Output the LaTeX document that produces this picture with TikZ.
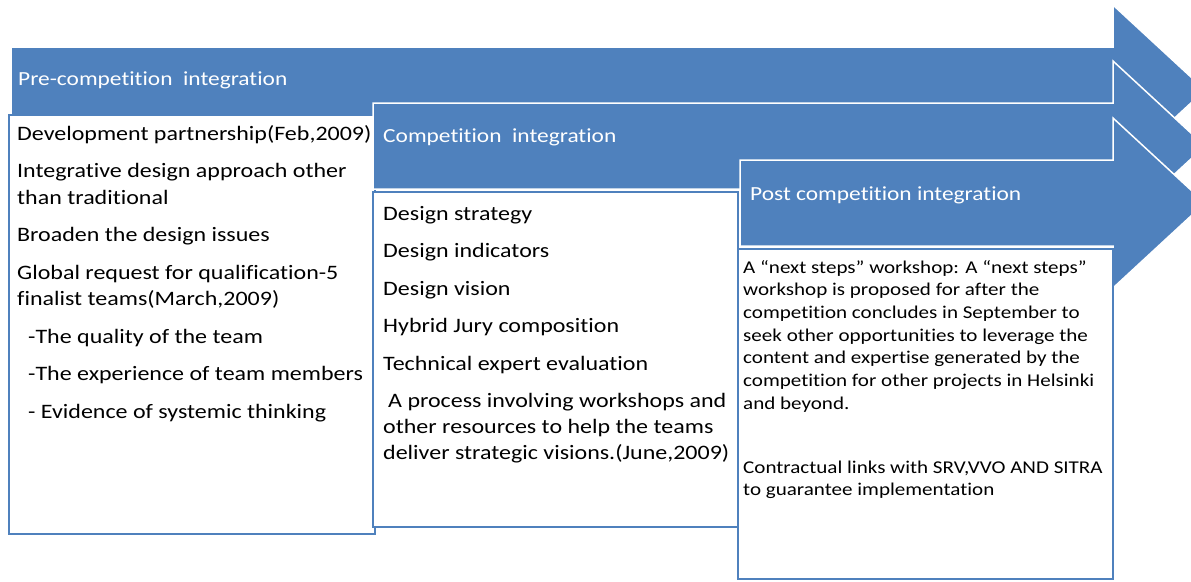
\documentclass[tikz,border=0pt]{standalone}
\usepackage{fontspec}
\setmainfont{Carlito}[FakeStretch=1.17, Ligatures=NoCommon]

\definecolor{phaseblue}{RGB}{79,129,189}

\tikzset{
  phase/.style={fill=phaseblue, draw=white, line width=1.5pt, line join=miter},
  notebox/.style={draw=phaseblue, line width=2.4pt, fill=white},
  phasetext/.style={anchor=base west, inner sep=0pt, text=white,
    font=\fontsize{20}{24}\selectfont},
  notetext/.style={anchor=north west, align=left, inner sep=0pt},
}

\begin{document}
\begin{tikzpicture}[x=1pt, y=-1pt]
\useasboundingbox (0,0) rectangle (1191,581);
\clip (0,0) rectangle (1191,581);

% pre-competition
\draw[phase] (11,47) -- (1113,47) -- (1113,5) -- (1205,90) -- (1113,175) -- (1113,133) -- (11,133) -- cycle;
\node[phasetext] (pre) at (18,85) {Pre-competition~ integration};
\draw[notebox] (9,115) rectangle (375,534);
\node[notetext, font=\fontsize{20.5}{26.5}\selectfont] (pre-notes) at (17,125)
  {Development partnership(Feb,2009)\\[11pt]
   Integrative design approach other\\
   than traditional\\[11pt]
   Broaden the design issues\\[11pt]
   Global request for qualification-5\\
   finalist teams(March,2009)\\[11pt]
   \hspace{11pt}-The quality of the team\\[11pt]
   \hspace{11pt}-The experience of team members\\[11pt]
   \hspace{11pt}- Evidence of systemic thinking};

% competition
\draw[phase] (373,103) -- (1113,103) -- (1113,61) -- (1205,146) -- (1113,231) -- (1113,189) -- (373,189) -- cycle;
\node[phasetext] (comp) at (383,142) {Competition~ integration};
\draw[notebox] (373,192) rectangle (738,527);
\node[notetext, font=\fontsize{20.5}{26}\selectfont] (comp-notes) at (383,206)
  {Design strategy\\[11.5pt]
   Design indicators\\[11.5pt]
   Design vision\\[11.5pt]
   Hybrid Jury composition\\[11.5pt]
   Technical expert evaluation\\[11.5pt]
   \hspace{5pt}A process involving workshops and\\
   other resources to help the teams\\
   deliver strategic visions.(June,2009)};

% post competition
\draw[phase] (740,160) -- (1113,160) -- (1113,118) -- (1205,203) -- (1113,288) -- (1113,246) -- (740,246) -- cycle;
\node[phasetext] (post) at (750,200) {Post competition integration};
\draw[notebox] (738,249) rectangle (1113,579);
\node[notetext, font=\fontsize{18}{22.7}\selectfont] (post-notes) at (743,260)
  {A “next steps” workshop: A “next steps”\\
   workshop is proposed for after the\\
   competition concludes in September to\\
   seek other opportunities to leverage the\\
   content and expertise generated by the\\
   competition for other projects in Helsinki\\
   and beyond.\\[41pt]
   Contractual links with SRV,VVO AND SITRA\\
   to guarantee implementation};
\end{tikzpicture}
\end{document}
